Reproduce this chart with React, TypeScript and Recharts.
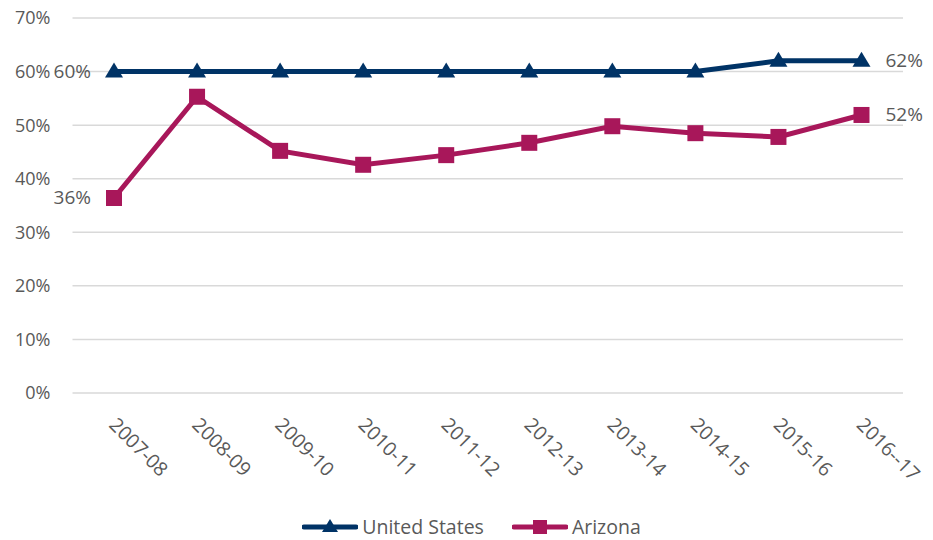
import { LineChart, Line, XAxis, YAxis, CartesianGrid, Legend } from "recharts";

const years = [
  "2007-08",
  "2008-09",
  "2009-10",
  "2010-11",
  "2011-12",
  "2012-13",
  "2013-14",
  "2014-15",
  "2015-16",
  "2016--17",
];
const unitedStates = [60, 60, 60, 60, 60, 60, 60, 60, 62, 62];
const arizona = [36.4, 55.3, 45.2, 42.6, 44.4, 46.7, 49.8, 48.5, 47.8, 51.9];
const yTicks = [0, 10, 20, 30, 40, 50, 60, 70];
// which points carry a value label
const usLabels = [0, 9];
const azLabels = [0, 9];

const data = years.map((year, i) => ({ year, us: unitedStates[i], az: arizona[i] }));

const navy = "#003366";
const berry = "#A8175A";
const textColor = "#595959";
const font = "'Open Sans', sans-serif";

const Triangle = (props: any) => {
  const { cx, cy } = props;
  if (cx == null || cy == null) return null;
  return <path d={`M${cx},${cy - 9} L${cx + 9},${cy + 6} L${cx - 9},${cy + 6} Z`} fill={navy} />;
};

const Square = (props: any) => {
  const { cx, cy } = props;
  if (cx == null || cy == null) return null;
  return <rect x={cx - 8} y={cy - 8} width={16} height={16} fill={berry} />;
};

const makeLabel = (which: number[], values: number[]) => (props: any) => {
  const { x, y, index } = props;
  if (!which.includes(index)) return null;
  const first = index === 0;
  return (
    <text
      x={first ? x - 23 : x + 24}
      y={y}
      dy={6}
      textAnchor={first ? "end" : "start"}
      fill={textColor}
      fontSize={19}
      fontFamily={font}
    >
      {Math.round(values[index])}%
    </text>
  );
};

const YearTick = (props: any) => {
  const { x, y, payload } = props;
  const tx = x - 6;
  const ty = y + 33;
  return (
    <text
      x={tx}
      y={ty}
      transform={`rotate(45, ${tx}, ${ty})`}
      textAnchor="start"
      fill={textColor}
      fontSize={19.5}
      fontFamily={font}
    >
      {payload.value}
    </text>
  );
};

const LegendContent = () => (
  <div
    style={{
      display: "flex",
      justifyContent: "center",
      alignItems: "center",
      gap: 28,
      fontFamily: font,
      fontSize: 19.5,
      color: textColor,
      height: 20,
      paddingLeft: 40,
    }}
  >
    {[
      { name: "United States", color: navy, tri: true },
      { name: "Arizona", color: berry, tri: false },
    ].map((s) => (
      <div key={s.name} style={{ display: "flex", alignItems: "center", gap: 4 }}>
        <svg width={56} height={20}>
          <line x1={2} y1={11} x2={54} y2={11} stroke={s.color} strokeWidth={5} strokeLinecap="round" />
          {s.tri ? (
            <path d="M28,3 L36,16 L20,16 Z" fill={s.color} />
          ) : (
            <rect x={21} y={4} width={14} height={14} fill={s.color} />
          )}
        </svg>
        <span>{s.name}</span>
      </div>
    ))}
  </div>
);

export default function App() {
  return (
    <div style={{ position: "absolute", left: 0, top: 0, background: "#fff" }}>
      <LineChart width={933} height={540} data={data} margin={{ top: 18, right: 30, bottom: 4, left: 0 }}>
        <CartesianGrid vertical={false} stroke="#d9d9d9" strokeWidth={1.5} />
        <XAxis
          dataKey="year"
          axisLine={false}
          tickLine={false}
          tickSize={0}
          tickMargin={0}
          height={123}
          interval={0}
          padding={{ left: 41.5, right: 41.5 }}
          tick={<YearTick />}
        />
        <YAxis
          domain={[0, 70]}
          ticks={yTicks}
          width={72.5}
          axisLine={false}
          tickLine={false}
          tickSize={0}
          tickMargin={22}
          tickFormatter={(v: number) => `${v}%`}
          tick={{ fill: textColor, fontSize: 18, fontFamily: font }}
        />
        <Legend verticalAlign="bottom" height={20} content={<LegendContent />} />
        <Line
          dataKey="us"
          name="United States"
          stroke={navy}
          strokeWidth={5}
          dot={<Triangle />}
          activeDot={false}
          label={makeLabel(usLabels, unitedStates)}
          isAnimationActive={false}
        />
        <Line
          dataKey="az"
          name="Arizona"
          stroke={berry}
          strokeWidth={5}
          dot={<Square />}
          activeDot={false}
          label={makeLabel(azLabels, arizona)}
          isAnimationActive={false}
        />
      </LineChart>
    </div>
  );
}
